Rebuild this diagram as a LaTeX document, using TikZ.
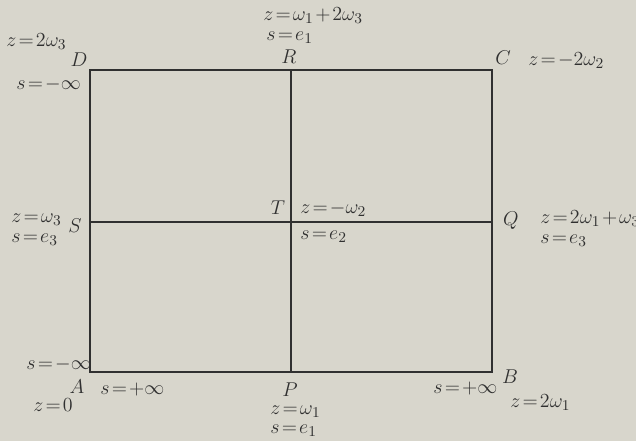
\documentclass[tikz,border=0pt]{standalone}
\usepackage{xcolor}
\definecolor{pagegray}{HTML}{D8D6CC}
\definecolor{inkgray}{HTML}{303030}
\usepackage{tikz}
\usetikzlibrary{positioning}
\thickmuskip=2mu plus 1mu
\medmuskip=1.5mu plus 1mu

\begin{document}
\begin{tikzpicture}[x=0.6pt,y=-0.6pt,font=\fontsize{12.5}{14}\selectfont,
  lbl/.style={text=inkgray,inner sep=0pt,anchor=west},
  letter/.style={text=inkgray,inner sep=0pt},
  side/.style={draw=inkgray,line width=1.1pt}]
% page
\fill[pagegray] (0,0) rectangle (636,441);
\useasboundingbox (0,0) rectangle (636,441);
% corners and midpoints
\coordinate (cA) at (90,372);
\coordinate (cB) at (492,372);
\coordinate (cC) at (492,70);
\coordinate (cD) at (90,70);
\coordinate (cP) at (291,372);
\coordinate (cR) at (291,70);
\coordinate (cS) at (90,222);
\coordinate (cQ) at (492,222);
% rectangle and cross lines
\draw[side] (cA) -- (cB) -- (cC) -- (cD) -- cycle;
\draw[side] (cP) -- (cR);
\draw[side] (cS) -- (cQ);
% point letters
\node[letter] (A) at (77,387) {$A$};
\node[letter] (B) at (510,377) {$B$};
\node[letter] (C) at (503,58) {$C$};
\node[letter] (D) at (79,60) {$D$};
\node[letter] (P) at (290,390) {$P$};
\node[letter] (Q) at (511,221) {$Q$};
\node[letter] (R) at (289,57) {$R$};
\node[letter] (S) at (75,226) {$S$};
\node[letter] (T) at (278,208) {$T$};
% values at D and C
\node[lbl] (zD) at (6,42) {$z=2\omega_3$};
\node[lbl] (sD) at (16,85) {$s=-\infty$};
\node[lbl] (zC) at (528,61) {$z=-2\omega_2$};
% values at R
\node[lbl] (zR) at (263,16) {$z=\omega_1+2\omega_3$};
\node[lbl] (sR) at (266,38) {$s=e_1$};
% values at S, T, Q
\node[lbl] (zS) at (11,220) {$z=\omega_3$};
\node[lbl] (sS) at (11,240) {$s=e_3$};
\node[lbl] (zT) at (300,209) {$z=-\omega_2$};
\node[lbl] (sT) at (300,237) {$s=e_2$};
\node[lbl] (zQ) at (540,219) {$z=2\omega_1+\omega_3$};
\node[lbl] (sQ) at (540,241) {$s=e_3$};
% values at A, P, B
\node[lbl] (sA) at (26,365) {$s=-\infty$};
\node[lbl] (sAr) at (100,390) {$s=+\infty$};
\node[lbl] (zA) at (33,405) {$z=0$};
\node[lbl] (zP) at (270,412) {$z=\omega_1$};
\node[lbl] (sP) at (270,431) {$s=e_1$};
\node[lbl] (sB) at (433,389) {$s=+\infty$};
\node[lbl] (zB) at (510,403) {$z=2\omega_1$};
\end{tikzpicture}
\end{document}
